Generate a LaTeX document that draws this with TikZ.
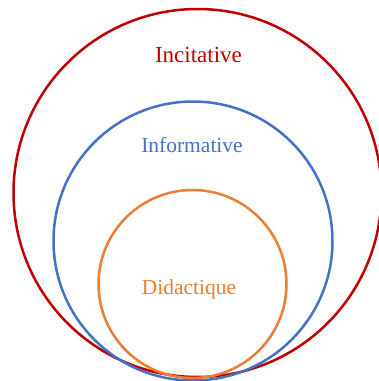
\documentclass[tikz,border=0pt]{standalone}
\usepackage{fontspec}
\setmainfont{Liberation Serif}
\definecolor{cred}{RGB}{192,0,0}
\definecolor{cblue}{RGB}{68,114,196}
\definecolor{corange}{RGB}{237,125,49}
\begin{document}
\begin{tikzpicture}[x=1pt,y=-1pt,
  ring/.style={line width=2.5pt},
  lbl/.style={anchor=base,inner sep=0pt,font=\fontsize{21.5}{24}\selectfont}]
\useasboundingbox (0,0) rectangle (379,381);
\begin{scope}
\clip (0,0) rectangle (379,381);
\node[draw=cred,ring,circle,minimum size=368pt,inner sep=0pt] (red) at (197.5,193) {};
\node[draw=cblue,ring,circle,minimum size=279pt,inner sep=0pt] (blue) at (193,241) {};
\node[draw=corange,ring,circle,minimum size=188pt,inner sep=0pt] (orange) at (192.5,284) {};
\end{scope}
\node[lbl,text=cred,font=\fontsize{23}{26}\selectfont] (t1) at (198.5,62) {Incitative};
\node[lbl,text=cblue] (t2) at (192,152) {Informative};
\node[lbl,text=corange] (t3) at (189,294) {Didactique};
\end{tikzpicture}
\end{document}
